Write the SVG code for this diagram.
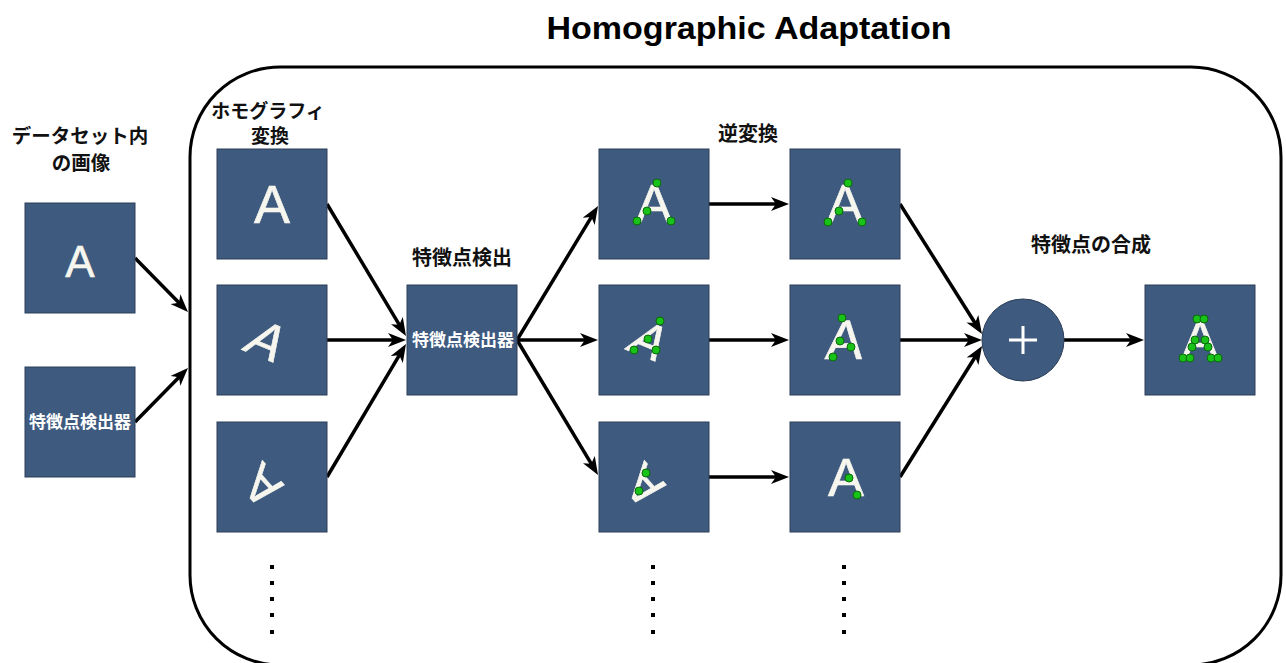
<svg xmlns="http://www.w3.org/2000/svg" width="1286" height="663" viewBox="0 0 1286 663">
  <style>
    .box { fill: #3e5a7f; stroke: #2c3f58; stroke-width: 1; }
    .glyph { font-family: "Liberation Sans", Arial, sans-serif; fill: #f6f6ee; stroke: #f6f6ee; stroke-width: 0.6; text-anchor: middle; }
    .lbl { font-family: "Noto Sans CJK JP", "Noto Sans", sans-serif; font-weight: bold; fill: #111; text-anchor: middle; }
    .inner { font-family: "Noto Sans CJK JP", "Noto Sans", sans-serif; font-weight: bold; fill: #ffffff; text-anchor: middle; }
    .kp { fill: #19c219; stroke: #0a6a0a; stroke-width: 1; }
    .edge { stroke: #000; stroke-width: 3.5; fill: none; marker-end: url(#arrow); }
    .dot { fill: #000; }
  </style>
  <defs>
    <marker id="arrow" viewBox="0 0 18 14" refX="10" refY="7" markerWidth="18" markerHeight="14" markerUnits="userSpaceOnUse" orient="auto">
      <path d="M0,0 L18,7 L0,14 L5,7 z" fill="#000"/>
    </marker>
    <g id="dots">
      <rect x="-2" y="-2" width="4" height="4" class="dot"/>
      <rect x="-2" y="14" width="4" height="4" class="dot"/>
      <rect x="-2" y="30" width="4" height="4" class="dot"/>
      <rect x="-2" y="46" width="4" height="4" class="dot"/>
      <rect x="-2" y="63" width="4" height="4" class="dot"/>
    </g>
  </defs>

  <rect width="1286" height="663" fill="#ffffff"/>

  <!-- title and frame -->
  <text x="749" y="39" font-family="'Liberation Sans', Arial, sans-serif" font-weight="bold" font-size="31" text-anchor="middle" textLength="405" lengthAdjust="spacingAndGlyphs" fill="#000">Homographic Adaptation</text>
  <rect id="frame" x="190" y="67" width="1091" height="598" rx="90" ry="90" fill="none" stroke="#000" stroke-width="3"/>

  <!-- column headings -->
  <g id="labels">
    <text class="lbl" x="80" y="143" font-size="19.5">データセット内</text>
    <text class="lbl" x="81" y="170" font-size="19.5">の画像</text>
    <text class="lbl" x="268" y="118" font-size="19">ホモグラフィ</text>
    <text class="lbl" x="270" y="143" font-size="19">変換</text>
    <text class="lbl" x="462" y="265" font-size="20">特徴点検出</text>
    <text class="lbl" x="748" y="141" font-size="20">逆変換</text>
    <text class="lbl" x="1091" y="252" font-size="20">特徴点の合成</text>
  </g>

  <!-- connectors -->
  <g id="connectors">
    <line class="edge" x1="135" y1="258" x2="182.4" y2="306.3"/>
    <line class="edge" x1="135" y1="422" x2="182.4" y2="373.7"/>
    <line class="edge" x1="327" y1="204" x2="401.9" y2="329.1"/>
    <line class="edge" x1="327" y1="340" x2="398" y2="340"/>
    <line class="edge" x1="327" y1="477" x2="401.9" y2="350.9"/>
    <line class="edge" x1="517" y1="340" x2="593.9" y2="212.8"/>
    <line class="edge" x1="517" y1="340" x2="590" y2="340"/>
    <line class="edge" x1="517" y1="340" x2="593.9" y2="468.1"/>
    <line class="edge" x1="709" y1="204" x2="781" y2="204"/>
    <line class="edge" x1="709" y1="340" x2="781" y2="340"/>
    <line class="edge" x1="709" y1="477" x2="781" y2="477"/>
    <line class="edge" x1="900" y1="204" x2="977.7" y2="327.2"/>
    <line class="edge" x1="900" y1="340" x2="974" y2="340"/>
    <line class="edge" x1="900" y1="477" x2="977.8" y2="352.8"/>
    <line class="edge" x1="1064" y1="340" x2="1136" y2="340"/>
  </g>

  <!-- dataset image -->
  <g id="input-image">
    <rect class="box" x="25" y="203" width="110" height="110"/>
    <text class="glyph" x="80" y="277" font-size="44">A</text>
  </g>
  <g id="input-detector">
    <rect class="box" x="25" y="367" width="110" height="110"/>
    <text class="inner" x="80" y="428" font-size="17">特徴点検出器</text>
  </g>

  <!-- homography warped images -->
  <g id="warp-1">
    <rect class="box" x="217" y="149" width="110" height="110"/>
    <text class="glyph" x="272" y="223" font-size="54">A</text>
  </g>
  <g id="warp-2">
    <rect class="box" x="217" y="285" width="110" height="110"/>
    <g transform="translate(268,340) rotate(22) skewX(-12)">
      <text class="glyph" x="0" y="19" font-size="52">A</text>
    </g>
  </g>
  <g id="warp-3">
    <rect class="box" x="217" y="422" width="110" height="110"/>
    <g transform="translate(262,487) rotate(228) skewX(10)">
      <text class="glyph" x="0" y="18" font-size="50">A</text>
    </g>
  </g>
  <use href="#dots" x="272" y="567"/>

  <!-- detector -->
  <g id="detector">
    <rect class="box" x="407" y="285" width="110" height="110"/>
    <text class="inner" x="463" y="346" font-size="17">特徴点検出器</text>
  </g>

  <!-- detected keypoints on warped images -->
  <g id="detect-1">
    <rect class="box" x="599" y="149" width="110" height="110"/>
    <text class="glyph" x="654" y="222" font-size="54">A</text>
    <circle class="kp" cx="657" cy="183" r="4"/>
    <circle class="kp" cx="647" cy="211" r="4"/>
    <circle class="kp" cx="637" cy="221" r="4"/>
    <circle class="kp" cx="671" cy="221" r="4"/>
  </g>
  <g id="detect-2">
    <rect class="box" x="599" y="285" width="110" height="110"/>
    <g transform="translate(650,340) rotate(22) skewX(-12)">
      <text class="glyph" x="0" y="18" font-size="50">A</text>
    </g>
    <circle class="kp" cx="660" cy="321" r="4"/>
    <circle class="kp" cx="648" cy="339" r="4"/>
    <circle class="kp" cx="634" cy="350" r="4"/>
    <circle class="kp" cx="656" cy="350" r="4"/>
  </g>
  <g id="detect-3">
    <rect class="box" x="599" y="422" width="110" height="110"/>
    <g transform="translate(644,487) rotate(228) skewX(10)">
      <text class="glyph" x="0" y="18" font-size="50">A</text>
    </g>
    <circle class="kp" cx="646" cy="473" r="4"/>
    <circle class="kp" cx="639" cy="491" r="4"/>
  </g>
  <use href="#dots" x="653" y="567"/>

  <!-- keypoints mapped back by the inverse homography -->
  <g id="inverse-1">
    <rect class="box" x="790" y="149" width="110" height="110"/>
    <text class="glyph" x="845" y="222" font-size="54">A</text>
    <circle class="kp" cx="848" cy="183" r="4"/>
    <circle class="kp" cx="839" cy="211" r="4"/>
    <circle class="kp" cx="828" cy="222" r="4"/>
    <circle class="kp" cx="862" cy="222" r="4"/>
  </g>
  <g id="inverse-2">
    <rect class="box" x="790" y="285" width="110" height="110"/>
    <g transform="translate(845,339) skewX(-5)">
      <text class="glyph" x="0" y="20" font-size="56">A</text>
    </g>
    <circle class="kp" cx="842" cy="318" r="4"/>
    <circle class="kp" cx="840" cy="341" r="4"/>
    <circle class="kp" cx="851" cy="347" r="4"/>
    <circle class="kp" cx="833" cy="357" r="4"/>
  </g>
  <g id="inverse-3">
    <rect class="box" x="790" y="422" width="110" height="110"/>
    <text class="glyph" x="846" y="496" font-size="54">A</text>
    <circle class="kp" cx="849" cy="478" r="4"/>
    <circle class="kp" cx="857" cy="495" r="4"/>
  </g>
  <use href="#dots" x="844" y="567"/>

  <!-- aggregation -->
  <g id="aggregate">
    <circle cx="1023" cy="340" r="41" fill="#3e5a7f" stroke="#2c3f58" stroke-width="1"/>
    <path d="M1009,340 H1037 M1023,326 V354" stroke="#ffffff" stroke-width="3" fill="none"/>
  </g>

  <g id="output">
    <rect class="box" x="1145" y="285" width="110" height="110"/>
    <text class="glyph" x="1200" y="358" font-size="54">A</text>
    <circle class="kp" cx="1197" cy="319" r="4"/>
    <circle class="kp" cx="1204" cy="319" r="4"/>
    <circle class="kp" cx="1195" cy="340" r="4"/>
    <circle class="kp" cx="1205" cy="340" r="4"/>
    <circle class="kp" cx="1192" cy="347" r="4"/>
    <circle class="kp" cx="1208" cy="347" r="4"/>
    <circle class="kp" cx="1183" cy="358" r="4"/>
    <circle class="kp" cx="1190" cy="358" r="4"/>
    <circle class="kp" cx="1211" cy="358" r="4"/>
    <circle class="kp" cx="1218" cy="358" r="4"/>
  </g>
</svg>
